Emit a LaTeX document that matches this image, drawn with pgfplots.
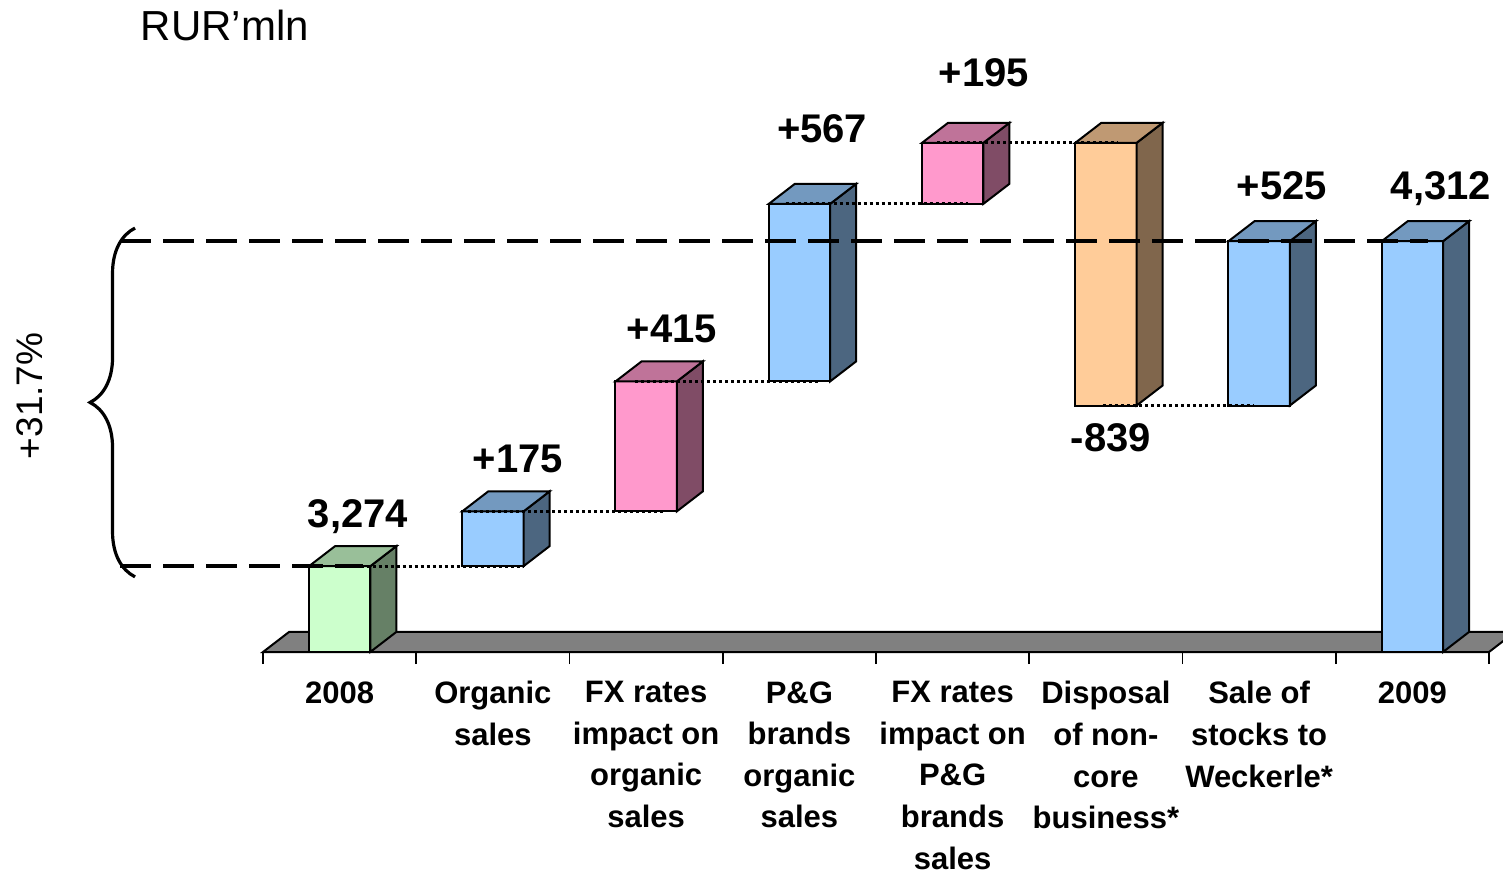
\documentclass[border=0pt]{standalone}
\usepackage{pgfplots}
\pgfplotsset{compat=1.18}
\usepackage{fontspec}
\setmainfont{Liberation Sans}
\usetikzlibrary{decorations.pathreplacing}

\definecolor{grn}{HTML}{CCFFCC}
\definecolor{blu}{HTML}{99CCFF}
\definecolor{pnk}{HTML}{FF99CC}
\definecolor{org}{HTML}{FFCC99}
\definecolor{flr}{HTML}{808080}

\tikzset{vlab/.style={font=\bfseries\fontsize{20}{24}\selectfont, inner sep=0pt, anchor=base}}

% one 3-D bar: #1 = category, #2 = bottom, #3 = top, #4 = colour
\newcommand{\cube}[4]{%
  \pgfmathsetmacro\xa{#1-0.2}%
  \pgfmathsetmacro\xb{#1+0.2}%
  \pgfmathsetmacro\xc{#1+0.37}%
  \pgfmathsetmacro\xd{#1-0.03}%
  \pgfmathsetmacro\yb{#2+64}%
  \pgfmathsetmacro\yt{#3+64}%
  \addplot[fill=#4, draw=black, line width=1pt] coordinates {(\xa,#2) (\xb,#2) (\xb,#3) (\xa,#3)} -- cycle;
  \addplot[fill=#4!50!black, draw=black, line width=1pt] coordinates {(\xb,#2) (\xc,\yb) (\xc,\yt) (\xb,#3)} -- cycle;
  \addplot[fill=#4!75!black, draw=black, line width=1pt] coordinates {(\xa,#3) (\xb,#3) (\xc,\yt) (\xd,\yt)} -- cycle;
}

\begin{document}
\begin{tikzpicture}
\begin{axis}[
    scale only axis,
    width=613pt, height=266.135pt,
    xmin=-0.5, xmax=7.5, ymin=3000, ymax=4700,
    clip=false,
    axis x line*=bottom,
    axis y line=none,
    x axis line style={-, line width=1pt},
    xtick={0,...,7},
    xticklabels={2008, {Organic\\sales}, {FX rates\\impact on\\organic\\sales},
      {P\&G\\brands\\organic\\sales}, {FX rates\\impact on\\P\&G\\brands\\sales},
      {Disposal\\of non-\\core\\business*}, {Sale of\\stocks to\\Weckerle*}, 2009},
    major tick length=0pt,
    minor xtick={-0.5,0.5,...,7.5},
    minor tick length=6pt,
    tick align=outside,
    minor tick style={line width=0.8pt, black},
    xticklabel style={font=\bfseries\fontsize{15.5}{20.8}\selectfont, align=center,
      anchor=north, inner sep=0pt, yshift=-14.5pt},
  ]
% floor
\addplot[fill=flr, draw=black, line width=1pt] coordinates {(-0.5,3000) (7.5,3000) (7.67,3064) (-0.33,3064)} -- cycle;

% bars
\cube{0}{3000}{3274}{grn}
\cube{1}{3274}{3449}{blu}
\cube{2}{3449}{3864}{pnk}
\cube{3}{3864}{4431}{blu}
\cube{4}{4431}{4626}{pnk}
\cube{5}{3787}{4626}{org}
\cube{6}{3787}{4312}{blu}
\cube{7}{3000}{4312}{blu}

% connectors
\addplot[black, line width=1.5pt, dash pattern=on 1.5pt off 1.5pt] coordinates {(0.02,3274) (1.20,3274)};
\addplot[black, line width=1.5pt, dash pattern=on 1.5pt off 1.5pt] coordinates {(0.84,3449) (2.12,3449)};
\addplot[black, line width=1.5pt, dash pattern=on 1.5pt off 1.5pt] coordinates {(1.93,3864) (3.12,3864)};
\addplot[black, line width=1.5pt, dash pattern=on 1.5pt off 1.5pt] coordinates {(2.91,4431) (4.10,4431)};
\addplot[black, line width=1.5pt, dash pattern=on 1.5pt off 1.5pt] coordinates {(3.90,4626) (5.08,4626)};
\addplot[black, line width=1.5pt, dash pattern=on 1.5pt off 1.5pt] coordinates {(4.98,3787) (5.96,3787)};

% 2008 and 2009 levels
\addplot[black, line width=2pt, dash pattern=on 15.5pt off 6pt] coordinates {(-1.433,3274) (0.153,3274)};
\addplot[black, line width=2pt, dash pattern=on 15.5pt off 6pt] coordinates {(-1.433,4312) (7.102,4312)};

\draw[decorate, decoration={brace, amplitude=22.5pt}, line width=1.6pt]
  (axis cs:-1.335,3240) -- (axis cs:-1.335,4354);
\node[rotate=90, font=\fontsize{18.5}{22}\selectfont] at (axis cs:-2.02,3818) {+31.7\%};
\node[anchor=base west, inner sep=0pt, font=\fontsize{21}{25}\selectfont] at (axis cs:-1.30,4952) {RUR’mln};

% value labels
\node[vlab] at (axis cs:0.120,3399) {3,274};
\node[vlab] at (axis cs:1.164,3572) {+175};
\node[vlab] at (axis cs:2.169,3987) {+415};
\node[vlab] at (axis cs:3.148,4626) {+567};
\node[vlab] at (axis cs:4.205,4805) {+195};
\node[vlab, anchor=north] at (axis cs:5.033,3731) {-839};
\node[vlab] at (axis cs:6.149,4444) {+525};
\node[vlab] at (axis cs:7.187,4444) {4,312};
\end{axis}
\pgfresetboundingbox
\path (-131.5pt,-110pt) rectangle (620pt,326pt);
\end{tikzpicture}
\end{document}
